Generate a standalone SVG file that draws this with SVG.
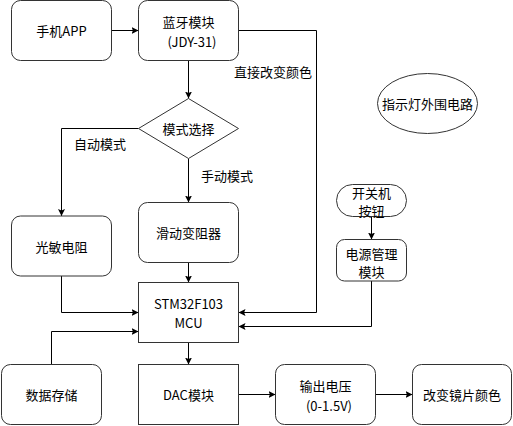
<svg xmlns="http://www.w3.org/2000/svg" width="513" height="426" viewBox="0 0 513 426">
<style>
.b{fill:#fff;stroke:#333;stroke-width:1}
.t{font-family:"Noto Sans CJK SC","Noto Sans",sans-serif;font-size:13px;fill:#000;text-anchor:middle;dominant-baseline:central}
.l{fill:none;stroke:#000;stroke-width:1}
</style>
<defs>
<marker id="a" viewBox="0 0 10 10" refX="10" refY="5" markerWidth="7" markerHeight="7" markerUnits="userSpaceOnUse" orient="auto">
<path d="M0,0 L10,5 L0,10 L2,5 Z" fill="#000"/>
</marker>
</defs>
<rect width="513" height="426" fill="#fff"/>
<g id="connectors">
<path class="l" d="M111.5,30.5 H138.5" marker-end="url(#a)"/>
<path class="l" d="M188.5,60.5 V98.5" marker-end="url(#a)"/>
<path class="l" d="M238.5,30.5 H316.5 V312.5 H238.5" marker-end="url(#a)"/>
<path class="l" d="M138.5,128.5 H61.5 V216" marker-end="url(#a)"/>
<path class="l" d="M188.5,158.5 V202.5" marker-end="url(#a)"/>
<path class="l" d="M188.5,262.5 V282.5" marker-end="url(#a)"/>
<path class="l" d="M61.5,276 V312.5 H138.5" marker-end="url(#a)"/>
<path class="l" d="M51.5,364.5 V331.5 H138.5" marker-end="url(#a)"/>
<path class="l" d="M371.5,216.5 V239.5" marker-end="url(#a)"/>
<path class="l" d="M371.5,281 V326.5 H238.5" marker-end="url(#a)"/>
<path class="l" d="M188.5,342.5 V364.5" marker-end="url(#a)"/>
<path class="l" d="M238.5,394.5 H275.5" marker-end="url(#a)"/>
<path class="l" d="M375.5,394.5 H412.5" marker-end="url(#a)"/>
<text class="t" x="100" y="143">自动模式</text>
<text class="t" x="227" y="175">手动模式</text>
<text class="t" x="273" y="71">直接改变颜色</text>
</g>
<g id="app"><rect class="b" x="11.5" y="0.5" width="100" height="60" rx="9"/><text class="t" x="61.5" y="30.5">手机APP</text></g>
<g id="bt"><rect class="b" x="138.5" y="0.5" width="100" height="60" rx="9"/><text class="t" x="188.5" y="21.5">蓝牙模块</text><text class="t" x="192" y="41.5">(JDY-31)</text></g>
<g id="mode"><path class="b" d="M188.5,98.5 L238.5,128.5 L188.5,158.5 L138.5,128.5 Z"/><text class="t" x="188.5" y="128.5">模式选择</text></g>
<g id="ldr"><rect class="b" x="11.5" y="216" width="100" height="60" rx="9"/><text class="t" x="61.5" y="246">光敏电阻</text></g>
<g id="pot"><rect class="b" x="138.5" y="202.5" width="100" height="60" rx="9"/><text class="t" x="188.5" y="232.5">滑动变阻器</text></g>
<g id="mcu"><rect class="b" x="138.5" y="282.5" width="100" height="60"/><text class="t" x="188.5" y="303.5">STM32F103</text><text class="t" x="188.5" y="322.5">MCU</text></g>
<g id="store"><rect class="b" x="1.5" y="364.5" width="100" height="60" rx="9"/><text class="t" x="51.5" y="394.5">数据存储</text></g>
<g id="dac"><rect class="b" x="138.5" y="364.5" width="100" height="60"/><text class="t" x="188.5" y="394.5">DAC模块</text></g>
<g id="vout"><rect class="b" x="275.5" y="364.5" width="100" height="60" rx="9"/><text class="t" x="325.5" y="385.5">输出电压</text><text class="t" x="329" y="405.5">(0-1.5V)</text></g>
<g id="lens"><rect class="b" x="412.5" y="364.5" width="99" height="60" rx="9"/><text class="t" x="462" y="394.5">改变镜片颜色</text></g>
<g id="btn"><rect class="b" x="336.5" y="184.5" width="70" height="32" rx="16"/><text class="t" x="371.5" y="192">开关机</text><text class="t" x="371.5" y="210">按钮</text></g>
<g id="pwr"><rect class="b" x="336.5" y="239.5" width="70" height="41.5" rx="8"/><text class="t" x="371.5" y="253.5">电源管理</text><text class="t" x="371.5" y="271.5">模块</text></g>
<g id="led"><ellipse class="b" cx="427.5" cy="103.5" rx="50" ry="30"/><text class="t" x="427.5" y="103.5">指示灯外围电路</text></g>
</svg>
